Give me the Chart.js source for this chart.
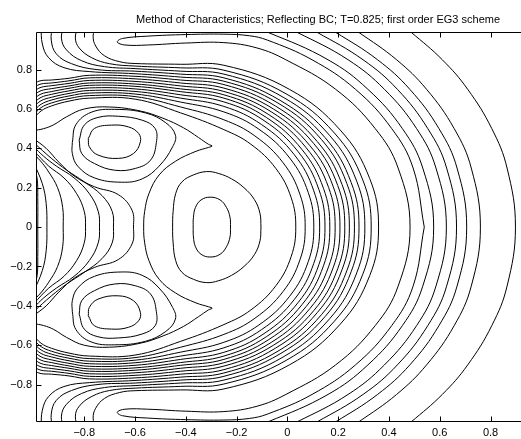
<!DOCTYPE html>
<html><head><meta charset="utf-8">
<script src="https://cdn.jsdelivr.net/npm/chart.js@4.4.1/dist/chart.umd.min.js"></script>
<style>html,body{margin:0;padding:0;background:#fff;overflow:hidden;width:521px;height:439px}canvas{display:block}</style>
</head><body><canvas id="c" width="600" height="439" style="width:600px;height:439px"></canvas>
<script>
const TITLE = "Method of Characteristics; Reflecting BC; T=0.825; first order EG3 scheme";
const xTicks = [-0.8,-0.6,-0.4,-0.2,0,0.2,0.4,0.6,0.8];
const yTicks = [-0.8,-0.6,-0.4,-0.2,0,0.2,0.4,0.6,0.8];
const xRange = [-0.99, 1.231];
const yRange = [-0.99, 0.99];

// Contour lines, upper half (y >= 0); the plot is mirror-symmetric in y.
const outerArcs = [
 [[0.898,0],[0.865,0.3],[0.805,0.5],[0.710,0.7],[0.610,0.85],[0.487,0.99],[0.456,1.02]],
 [[0.760,0],[0.724,0.3],[0.657,0.5],[0.548,0.7],[0.430,0.85],[0.280,0.99],[0.240,1.02]],
 [[0.706,0],[0.668,0.3],[0.597,0.5],[0.482,0.7],[0.355,0.85],[0.189,0.99],[0.143,1.02]],
 [[0.666,0],[0.627,0.3],[0.553,0.5],[0.433,0.7],[0.298,0.85],[0.116,0.99],[0.065,1.02]],
 [[0.626,0],[0.585,0.3],[0.509,0.5],[0.382,0.7],[0.239,0.85],[0.037,0.99],[-0.023,1.02]],
 [[0.576,0],[0.533,0.3],[0.453,0.5],[0.317,0.7],[0.160,0.85],[-0.078,0.99],[-0.157,1.02]]
];
const denseArcs = [
 [[0.033,0],[0.015,0.149],[-0.045,0.297],[-0.144,0.421],[-0.25,0.495],[-0.42,0.58],[-0.6,0.65],[-0.78,0.655],[-0.86,0.64],[-0.93,0.615],[-0.97,0.59],[-1.0,0.55]],
 [[0.070,0],[0.050,0.164],[-0.017,0.327],[-0.128,0.463],[-0.25,0.545],[-0.42,0.61],[-0.6,0.663],[-0.78,0.668],[-0.86,0.653],[-0.93,0.63],[-0.97,0.607],[-1.0,0.57]],
 [[0.104,0],[0.082,0.176],[0.009,0.351],[-0.112,0.497],[-0.25,0.585],[-0.42,0.635],[-0.6,0.676],[-0.78,0.681],[-0.86,0.666],[-0.93,0.645],[-0.97,0.624],[-1.0,0.59]],
 [[0.127,0],[0.104,0.184],[0.027,0.368],[-0.102,0.521],[-0.25,0.613],[-0.42,0.655],[-0.6,0.689],[-0.78,0.694],[-0.86,0.679],[-0.93,0.659],[-0.97,0.642],[-1.0,0.61]],
 [[0.148,0],[0.124,0.191],[0.043,0.382],[-0.092,0.541],[-0.25,0.636],[-0.42,0.672],[-0.6,0.702],[-0.78,0.707],[-0.86,0.692],[-0.93,0.674],[-0.97,0.659],[-1.0,0.63]],
 [[0.167,0],[0.142,0.197],[0.058,0.393],[-0.083,0.557],[-0.25,0.655],[-0.42,0.688],[-0.6,0.715],[-0.78,0.72],[-0.86,0.705],[-0.93,0.688],[-0.97,0.676],[-1.0,0.65]],
 [[0.188,0],[0.162,0.202],[0.074,0.403],[-0.073,0.571],[-0.25,0.672],[-0.42,0.702],[-0.6,0.727],[-0.78,0.732],[-0.86,0.717],[-0.93,0.703],[-0.97,0.693],[-1.0,0.67]],
 [[0.207,0],[0.180,0.207],[0.089,0.413],[-0.064,0.586],[-0.25,0.689],[-0.42,0.717],[-0.6,0.74],[-0.78,0.745],[-0.86,0.73],[-0.93,0.718],[-0.97,0.71],[-1.0,0.69]],
 [[0.226,0],[0.198,0.212],[0.104,0.424],[-0.055,0.6],[-0.25,0.706],[-0.42,0.732],[-0.6,0.753],[-0.78,0.758],[-0.86,0.743],[-0.93,0.732],[-0.97,0.727],[-1.0,0.71]],
 [[0.244,0],[0.215,0.217],[0.118,0.434],[-0.047,0.615],[-0.25,0.724],[-0.42,0.747],[-0.6,0.766],[-0.78,0.771],[-0.86,0.756],[-0.93,0.747],[-0.97,0.744],[-1.0,0.73]],
 [[0.264,0],[0.234,0.222],[0.134,0.445],[-0.037,0.63],[-0.25,0.741],[-0.42,0.762],[-0.6,0.779],[-0.78,0.79],[-0.88,0.81],[-0.94,0.86],[-0.965,0.93],[-0.97,1.02]],
 [[0.282,0],[0.251,0.227],[0.148,0.455],[-0.029,0.644],[-0.25,0.758],[-0.42,0.777],[-0.6,0.792],[-0.75,0.80],[-0.85,0.83],[-0.91,0.88],[-0.93,0.95],[-0.925,1.02]],
 [[0.305,0],[0.273,0.233],[0.166,0.466],[-0.017,0.66],[-0.25,0.777],[-0.42,0.792],[-0.6,0.805],[-0.72,0.815],[-0.81,0.845],[-0.87,0.90],[-0.89,0.96],[-0.88,1.02]],
 [[0.330,0],[0.297,0.239],[0.185,0.478],[-0.005,0.677],[-0.25,0.797],[-0.42,0.809],[-0.6,0.818],[-0.7,0.83],[-0.77,0.86],[-0.82,0.91],[-0.835,0.96],[-0.825,1.02]],
 [[0.359,0],[0.324,0.247],[0.208,0.493],[0.009,0.699],[-0.25,0.822],[-0.42,0.827],[-0.6,0.831],[-0.66,0.84],[-0.72,0.87],[-0.755,0.92],[-0.765,0.97],[-0.755,1.02]]
];
const leftLines = [
 [[-0.983,0],[-0.983,0.15],[-0.986,0.25],[-1.0,0.31]],
 [[-0.947,0],[-0.95,0.12],[-0.965,0.22],[-1.0,0.33]],
 [[-0.883,0],[-0.885,0.1],[-0.905,0.2],[-0.94,0.28],[-0.975,0.34],[-1.0,0.37]],
 [[-0.795,0],[-0.8,0.08],[-0.83,0.17],[-0.88,0.25],[-0.94,0.31],[-1.0,0.39]],
 [[-0.74,0],[-0.745,0.08],[-0.78,0.17],[-0.84,0.25],[-0.91,0.31],[-0.96,0.36],[-1.0,0.41]],
 [[-0.685,0],[-0.69,0.08],[-0.73,0.16],[-0.80,0.23],[-0.87,0.29],[-0.93,0.35],[-1.0,0.43]],
 [[-0.606,0],[-0.612,0.086],[-0.666,0.165],[-0.76,0.205],[-0.84,0.26],[-0.9,0.33],[-0.95,0.4],[-1.0,0.45]],
 [[-0.566,0],[-0.562,0.08],[-0.545,0.171],[-0.505,0.265],[-0.44,0.335],[-0.36,0.385],[-0.31,0.405],[-0.296,0.412],[-0.31,0.42],[-0.35,0.455],[-0.41,0.505],[-0.49,0.553],[-0.58,0.59],[-0.70,0.61],[-0.80,0.60],[-0.87,0.56],[-0.92,0.52],[-0.96,0.5],[-1.0,0.49]]
];
// Arches from y = 0 back to y = 0 (closed through the mirror image)
const centralLoops = [
 [[-0.224,0],[-0.226,0.05],[-0.24,0.1],[-0.265,0.138],[-0.304,0.152],[-0.34,0.138],[-0.362,0.1],[-0.37,0.05],[-0.371,0]],
 [[-0.104,0],[-0.108,0.07],[-0.13,0.14],[-0.171,0.2],[-0.22,0.245],[-0.27,0.272],[-0.318,0.282],[-0.37,0.265],[-0.415,0.23],[-0.44,0.17],[-0.45,0.08],[-0.452,0]],
 // the tongue along the top wall
 [[0.539,0],[0.495,0.3],[0.411,0.5],[0.268,0.7],[0.097,0.85],[-0.079,0.95],[-0.15,0.972],[-0.25,0.98],[-0.4,0.978],[-0.55,0.97],[-0.65,0.958],[-0.67,0.94],[-0.64,0.925],[-0.55,0.925],[-0.4,0.935],[-0.25,0.937],[-0.12,0.91],[-0.006,0.85],[0.190,0.7],[0.346,0.5],[0.436,0.3],[0.483,0]]
];
const vortexLoops = [
 [[-0.784,0.45],[-0.76,0.501],[-0.693,0.518],[-0.626,0.509],[-0.586,0.476],[-0.579,0.433],[-0.606,0.374],[-0.666,0.349],[-0.746,0.366],[-0.78,0.408],[-0.784,0.45]],
 [[-0.82,0.442],[-0.80,0.518],[-0.746,0.557],[-0.666,0.563],[-0.572,0.543],[-0.521,0.501],[-0.516,0.43],[-0.539,0.34],[-0.599,0.298],[-0.68,0.289],[-0.76,0.323],[-0.81,0.374],[-0.82,0.442]],
 [[-0.847,0.43],[-0.833,0.52],[-0.773,0.583],[-0.68,0.598],[-0.559,0.58],[-0.479,0.53],[-0.441,0.467],[-0.452,0.408],[-0.505,0.31],[-0.572,0.245],[-0.653,0.228],[-0.76,0.25],[-0.826,0.31],[-0.847,0.374],[-0.847,0.43]]
];

const FONT = "'Liberation Sans', Arial, Helvetica, sans-serif";
const flip = p => [p[0], -p[1]];
const toXY = pts => pts.map(p => ({x: p[0], y: p[1]}));
const curves = [];
[...outerArcs, ...denseArcs, ...leftLines].forEach(c => {
  curves.push(c.slice(1).reverse().map(flip).concat(c));
});
centralLoops.forEach(c => {
  const lower = c.map(flip).reverse();
  curves.push(c.concat(lower.slice(1)));
});
vortexLoops.forEach(c => { curves.push(c); curves.push(c.map(flip)); });

const datasets = curves.map(c => ({data: toXY(c), showLine: true, borderColor: '#000', borderWidth: 1,
  pointRadius: 0, tension: 0.4, fill: false}));

const fmt = v => (v < 0 ? '\u2212' + String(Math.abs(v)) : String(v));

const frame = {
  id: 'frame',
  afterDraw(chart) {
    const {ctx, chartArea: a, scales} = chart;
    ctx.save();
    ctx.strokeStyle = '#000'; ctx.lineWidth = 1;
    const L = Math.round(a.left) + 0.5, R = Math.round(a.right) - 0.5, T = Math.round(a.top) + 0.5, B = Math.round(a.bottom) - 0.5;
    ctx.beginPath();
    ctx.moveTo(L, T); ctx.lineTo(R, T); ctx.lineTo(R, B); ctx.lineTo(L, B); ctx.closePath();
    ctx.stroke();
    ctx.beginPath();
    xTicks.forEach(v => { const px = Math.round(scales.x.getPixelForValue(v)) + 0.5;
      ctx.moveTo(px, B); ctx.lineTo(px, B - 5); ctx.moveTo(px, T); ctx.lineTo(px, T + 5); });
    yTicks.forEach(v => { const py = Math.round(scales.y.getPixelForValue(v)) + 0.5;
      ctx.moveTo(L, py); ctx.lineTo(L + 5, py); });
    ctx.stroke();
    ctx.restore();
  }
};

new Chart(document.getElementById('c'), {
  type: 'scatter',
  data: {datasets},
  options: {
    responsive: false, animation: false, devicePixelRatio: 1,
    layout: {padding: 0},
    plugins: {
      legend: {display: false}, tooltip: {enabled: false},
      title: {display: true, text: TITLE, fullSize: false, color: '#000',
        font: {family: FONT, size: 11, weight: 'normal'}, padding: {top: 13, bottom: 6}}
    },
    scales: {
      x: {type: 'linear', min: xRange[0], max: xRange[1],
        grid: {display: false, drawTicks: false}, border: {display: false},
        afterBuildTicks: s => { s.ticks = xTicks.map(v => ({value: v})); },
        afterFit: s => { s.height = 17; },
        ticks: {padding: 4, color: '#000', font: {family: FONT, size: 11}, callback: fmt, maxRotation: 0, autoSkip: false}},
      y: {type: 'linear', min: yRange[0], max: yRange[1],
        grid: {display: false, drawTicks: false}, border: {display: false},
        afterBuildTicks: s => { s.ticks = yTicks.map(v => ({value: v})); },
        afterFit: s => { s.width = 36; },
        ticks: {padding: 4, color: '#000', font: {family: FONT, size: 11}, callback: fmt, autoSkip: false}}
    }
  },
  plugins: [frame]
});
</script></body></html>
